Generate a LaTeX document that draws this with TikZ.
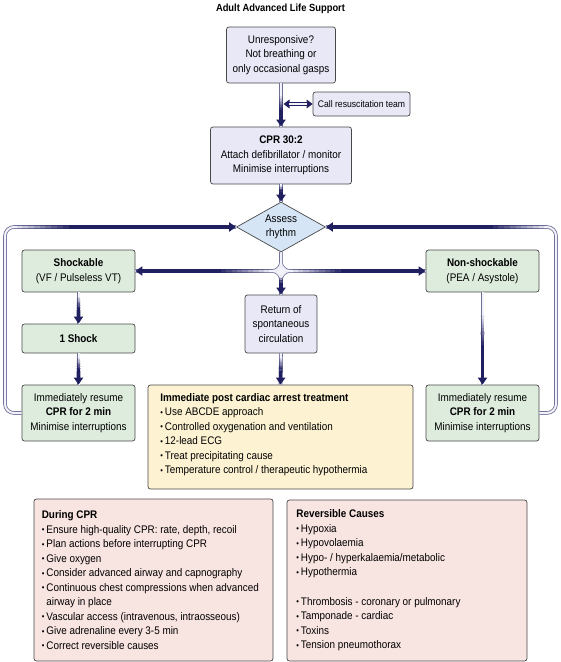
\documentclass[tikz,border=0pt]{standalone}
\usepackage{fontspec}
\usepackage{graphicx}
\setmainfont{Liberation Sans}[FakeStretch=0.9]
\usetikzlibrary{arrows.meta,calc,shapes.geometric}
\definecolor{arrowc}{RGB}{32,32,96}
\definecolor{tubeedge}{RGB}{112,112,152}
\definecolor{tubefill}{RGB}{242,242,250}
\definecolor{lav}{RGB}{232,232,247}
\definecolor{grn}{RGB}{222,236,222}
\definecolor{dia}{RGB}{213,229,245}
\definecolor{ylw}{RGB}{253,243,211}
\definecolor{pnk}{RGB}{248,228,225}
\definecolor{bord}{RGB}{72,72,72}
\newcommand\bl{\makebox[4.6pt][l]{\raisebox{0.4pt}{\scalebox{0.75}{•}}}}
% #1 from, #2 to, #3 start fraction of fade, #4 fraction where fully dark
\newcommand\fadeseg[4]{%
  \foreach \k [evaluate=\k as \fa using #3+(#4-#3)*(\k-1)/10,
               evaluate=\k as \fb using #3+(#4-#3)*\k/10,
               evaluate=\k as \op using \k/10] in {1,...,10}{%
    \draw[arrowc, line width=3.6pt, draw opacity=\op] ($#1!\fa!#2$) -- ($#1!\fb!#2$);%
  }%
  \draw[arrowc, line width=3.6pt, arrowend] ($#1!#4!#2$) -- #2;%
}
\begin{document}
\begin{tikzpicture}[x=1pt,y=-1pt,
  every node/.style={font=\fontsize{11}{14.5}\selectfont},
  box/.style={draw=bord, line width=0.7pt, rounded corners=2.5pt, inner sep=0pt, align=center},
  listtext/.style={anchor=west, align=left, inner sep=0pt},
  tubeE/.style={draw=tubeedge, line width=3.6pt},
  tubeF/.style={draw=tubefill, line width=2pt},
  arrowend/.style={-{Triangle[length=7pt,width=9pt]}},
]
\useasboundingbox (0,0) rectangle (561,662);

\node[font=\bfseries\fontsize{10.4}{12}\selectfont] (title) at (280.5,9) {Adult Advanced Life Support};

\node[box, fill=lav, minimum width=109pt, minimum height=56pt] (top) at (281,55) {Unresponsive?\\Not breathing or\\only occasional gasps};
\node[box, fill=lav, minimum width=97pt, minimum height=24pt, font=\fontsize{9.6}{12}\selectfont] (call) at (361.5,104) {Call resuscitation team};
\node[box, fill=lav, minimum width=141pt, minimum height=57pt] (cpr) at (281,155.5) {\textbf{CPR 30:2}\\Attach defibrillator / monitor\\Minimise interruptions};
\node[draw=bord, line width=0.7pt, fill=dia, diamond, aspect=1.78, inner sep=0pt, minimum width=89pt, minimum height=50pt, align=center] (d) at (281,227) {Assess\\rhythm};

\node[box, fill=grn, minimum width=113pt, minimum height=42pt] (shock) at (78.5,271) {\textbf{Shockable}\\(VF / Pulseless VT)};
\node[box, fill=grn, minimum width=113pt, minimum height=29pt] (one) at (78.5,338.5) {\textbf{1 Shock}};
\node[box, fill=grn, minimum width=113pt, minimum height=56pt] (resL) at (78.5,413) {Immediately resume\\\textbf{CPR for 2 min}\\Minimise interruptions};

\node[box, fill=lav, minimum width=72pt, minimum height=58pt] (rosc) at (281,324) {Return of\\spontaneous\\circulation};

\node[box, fill=grn, minimum width=113pt, minimum height=42pt] (non) at (482.5,271) {\textbf{Non-shockable}\\(PEA / Asystole)};
\node[box, fill=grn, minimum width=113pt, minimum height=56pt] (resR) at (482.5,413) {Immediately resume\\\textbf{CPR for 2 min}\\Minimise interruptions};

\node[box, fill=ylw, minimum width=265pt, minimum height=104pt] (post) at (280.5,437) {};
\node[listtext] (posttext) at ([xshift=12.5pt,yshift=2.5pt]post.west) {\textbf{Immediate post cardiac arrest treatment}\\
\bl Use ABCDE approach\\
\bl Controlled oxygenation and ventilation\\
\bl 12-lead ECG\\
\bl Treat precipitating cause\\
\bl Temperature control / therapeutic hypothermia};

\node[box, fill=pnk, minimum width=239pt, minimum height=162pt] (during) at (153.5,580) {};
\node[listtext] (duringtext) at ([xshift=8pt]during.west) {\textbf{During CPR}\\
\bl Ensure high-quality CPR: rate, depth, recoil\\
\bl Plan actions before interrupting CPR\\
\bl Give oxygen\\
\bl Consider advanced airway and capnography\\
\bl Continuous chest compressions when advanced\\
\hspace*{4.6pt}airway in place\\
\bl Vascular access (intravenous, intraosseous)\\
\bl Give adrenaline every 3-5 min\\
\bl Correct reversible causes};

\node[box, fill=pnk, minimum width=240pt, minimum height=161pt] (rev) at (407,580.5) {};
\node[listtext] (revtext) at ([xshift=9.5pt]rev.west) {\textbf{Reversible Causes}\\
\bl Hypoxia\\
\bl Hypovolaemia\\
\bl Hypo- / hyperkalaemia/metabolic\\
\bl Hypothermia\\[15pt]
\bl Thrombosis - coronary or pulmonary\\
\bl Tamponade - cardiac\\
\bl Toxins\\
\bl Tension pneumothorax};

% helper coordinates
\coordinate (j) at (d.south |- shock.east);
\coordinate (cj) at (top.south |- call.west);
\coordinate (lc1) at (5,413);
\coordinate (lc2) at (5,227);
\coordinate (rc1) at (556,413);
\coordinate (rc2) at (556,227);

% tubes: edges first, then fills
\begin{scope}[rounded corners=9pt]
\foreach \s in {tubeE,tubeF}{
  \draw[\s] (top.south) -- (cpr.north);
  \draw[\s] (cpr.south) -- (d.north);
  \draw[\s] (d.south) |- (shock.east);
  \draw[\s] (d.south) |- (non.west);
  \draw[\s] (shock.east) -| (rosc.north);
  \draw[\s] (non.west) -| (rosc.north);
  \draw[\s] (shock.south) -- (one.north);
  \draw[\s] (one.south) -- (resL.north);
  \draw[\s] (rosc.south) -- (post.north);
  \draw[\s] (non.south) -- (resR.north);
  \draw[\s] (resL.west) -- (lc1) -- (lc2) -- (d.west);
  \draw[\s] (resR.east) -- (rc1) -- (rc2) -- (d.east);
}
\end{scope}
\fill[tubefill] (j) circle (4.4pt);

% darkening towards the arrow heads
\fadeseg{(top.south)}{(cpr.north)}{0.3}{0.65}
\fadeseg{(cpr.south)}{(d.north)}{0.1}{0.45}
\fadeseg{(j)}{(shock.east)}{0.08}{0.45}
\fadeseg{(j)}{(non.west)}{0.08}{0.45}
\fadeseg{(j)}{(rosc.north)}{0.25}{0.55}
\fadeseg{(shock.south)}{(one.north)}{0.15}{0.55}
\fadeseg{(one.south)}{(resL.north)}{0.15}{0.55}
\fadeseg{(rosc.south)}{(post.north)}{0.15}{0.55}
\fadeseg{(non.south)}{(resR.north)}{0.25}{0.6}
\fadeseg{(lc2)}{(d.west)}{0.05}{0.3}
\fadeseg{(rc2)}{(d.east)}{0.05}{0.3}

% call team double arrow
\draw[arrowc, line width=3.4pt, {Triangle[length=6pt,width=8.5pt]}-{Triangle[length=6pt,width=8.5pt]}] ([xshift=2.5pt]cj) -- (call.west);
\draw[tubefill, line width=1.3pt] ([xshift=8pt]cj) -- ([xshift=-6pt]call.west);
\end{tikzpicture}
\end{document}
